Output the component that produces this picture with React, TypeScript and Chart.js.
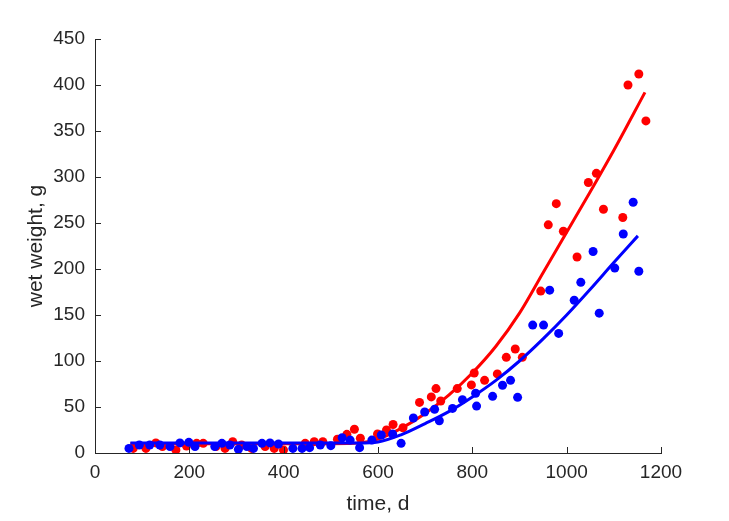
import React, { useEffect, useRef } from "react";
import { Chart, registerables } from "chart.js";

Chart.register(...registerables);

const redTime = [81, 108, 129, 143, 171.5, 194, 215.5, 229.5, 256.5, 275.7, 292, 311, 332, 360.7, 380, 399.6, 445.7, 464.8, 483, 514, 534, 550, 562.6, 599, 618, 632, 653, 688, 713, 723, 733, 768, 798, 804, 826, 853, 872, 891, 906, 945, 961, 978, 993, 1022, 1046, 1063, 1078, 1119, 1130, 1153, 1168];
const redWeight = [5, 5, 11, 7, 3.3, 7.6, 10.5, 10.5, 7, 5, 12.3, 8.7, 5, 7, 5, 3.3, 10.5, 12.3, 12.3, 14.9, 20.3, 25.8, 16, 20.6, 25, 31, 27.5, 55, 61, 70, 56.5, 70, 74, 87, 79, 86, 104, 113, 104, 176, 248, 271, 241, 213, 294, 304, 265, 256, 400, 412, 361];

const blueTime = [72, 94, 116, 137.5, 159, 180, 199, 212, 254, 269, 286, 304, 322, 336, 354, 371, 389, 419.5, 439, 455, 477.6, 500, 524, 541, 561, 587, 607, 631, 649, 675, 699, 720, 730, 758, 779, 807, 809, 843, 864, 881, 896, 928, 951, 964, 983, 1016, 1030, 1056, 1069, 1102, 1120, 1141, 1153];
const blueWeight = [5, 8.7, 8.7, 8.7, 7, 11, 11.6, 7, 7, 10.5, 8.7, 4, 7, 5, 10.5, 11, 9.8, 5, 5, 5.8, 8.7, 8, 16.6, 14, 5.8, 14, 19.6, 20.6, 10.5, 38, 44.6, 47.5, 35, 48.5, 58, 65, 51, 61.6, 73.6, 79, 60.5, 139, 139, 177, 130, 166, 185.5, 219, 152, 201, 238, 272.5, 197.5];

const redFitTime = [75, 500, 560, 600, 650, 700, 750, 800, 850, 900, 950, 1000, 1050, 1100, 1166];
const redFitWeight = [10, 10, 11, 15, 27, 43, 63, 87, 116, 152, 196, 240, 284, 329, 392];

const blueFitTime = [75, 500, 560, 600, 650, 700, 750, 800, 850, 900, 950, 1000, 1050, 1100, 1151];
const blueFitWeight = [11, 11, 11, 12, 20, 32, 45, 61, 79, 100, 124, 150, 178, 207, 236];

const xTicks = [0, 200, 400, 600, 800, 1000, 1200];
const yTicks = [0, 50, 100, 150, 200, 250, 300, 350, 400, 450];

const AXIS_COLOR = "#262626";
const FONT = "'Liberation Sans', Arial, Helvetica, sans-serif";

const zip = (xs: number[], ys: number[]) => xs.map((x, i) => ({ x, y: ys[i] }));

const innerTicks = {
  id: "innerTicks",
  afterDraw(chart: any) {
    const { ctx, chartArea, scales } = chart;
    const len = 6;
    ctx.save();
    ctx.strokeStyle = AXIS_COLOR;
    ctx.lineWidth = 1;
    ctx.beginPath();
    xTicks.forEach((v) => {
      const px = Math.round(scales.x.getPixelForValue(v)) + 0.5;
      ctx.moveTo(px, chartArea.bottom);
      ctx.lineTo(px, chartArea.bottom - len);
    });
    yTicks.forEach((v) => {
      const py = Math.round(scales.y.getPixelForValue(v)) + 0.5;
      ctx.moveTo(chartArea.left, py);
      ctx.lineTo(chartArea.left + len, py);
    });
    ctx.stroke();
    ctx.restore();
  },
};

export default function App() {
  const ref = useRef<HTMLCanvasElement>(null);
  useEffect(() => {
    document.body.style.margin = "0";
    const chart = new Chart(ref.current as HTMLCanvasElement, {
      type: "scatter",
      data: {
        datasets: [
          {
            type: "line",
            data: zip(blueFitTime, blueFitWeight),
            borderColor: "#0000ff",
            borderWidth: 3,
            pointRadius: 0,
            cubicInterpolationMode: "monotone",
            fill: false,
            order: 1,
          } as any,
          {
            data: zip(blueTime, blueWeight),
            backgroundColor: "#0000ff",
            borderColor: "#0000ff",
            pointRadius: 4.5,
            borderWidth: 0,
            order: 2,
          },
          {
            type: "line",
            data: zip(redFitTime, redFitWeight),
            borderColor: "#ff0000",
            borderWidth: 3,
            pointRadius: 0,
            cubicInterpolationMode: "monotone",
            fill: false,
            order: 3,
          } as any,
          {
            data: zip(redTime, redWeight),
            backgroundColor: "#ff0000",
            borderColor: "#ff0000",
            pointRadius: 4.5,
            borderWidth: 0,
            order: 4,
          },
        ],
      },
      options: {
        animation: false,
        responsive: true,
        maintainAspectRatio: false,
        layout: { padding: { top: 39, right: 68, left: 0, bottom: 0 } },
        plugins: { legend: { display: false }, tooltip: { enabled: false } },
        scales: {
          x: {
            type: "linear",
            min: 0,
            max: 1200,
            afterBuildTicks: (s: any) => {
              s.ticks = xTicks.map((v) => ({ value: v }));
            },
            afterFit: (s: any) => {
              s.height = 68;
            },
            grid: { display: false, drawTicks: false },
            border: { display: true, color: AXIS_COLOR, width: 1 },
            ticks: {
              color: AXIS_COLOR,
              font: { family: FONT, size: 19 },
              padding: 8,
              maxRotation: 0,
              callback: (v: any) => String(v),
            },
            title: {
              display: true,
              text: "time, d",
              color: AXIS_COLOR,
              font: { family: FONT, size: 21 },
              padding: { top: 0, bottom: 4 },
            },
          },
          y: {
            type: "linear",
            min: 0,
            max: 450,
            afterBuildTicks: (s: any) => {
              s.ticks = yTicks.map((v) => ({ value: v }));
            },
            afterFit: (s: any) => {
              s.width = 95;
            },
            grid: { display: false, drawTicks: false },
            border: { display: true, color: AXIS_COLOR, width: 1 },
            ticks: {
              color: AXIS_COLOR,
              font: { family: FONT, size: 19 },
              padding: 10,
              callback: (v: any) => String(v),
            },
            title: {
              display: true,
              text: "wet weight, g",
              color: AXIS_COLOR,
              font: { family: FONT, size: 21 },
              padding: { top: 24, bottom: 0 },
            },
          },
        },
      },
      plugins: [innerTicks],
    });
    return () => chart.destroy();
  }, []);
  return (
    <div style={{ width: 729, height: 521, position: "relative", background: "#fff" }}>
      <canvas ref={ref} />
    </div>
  );
}
